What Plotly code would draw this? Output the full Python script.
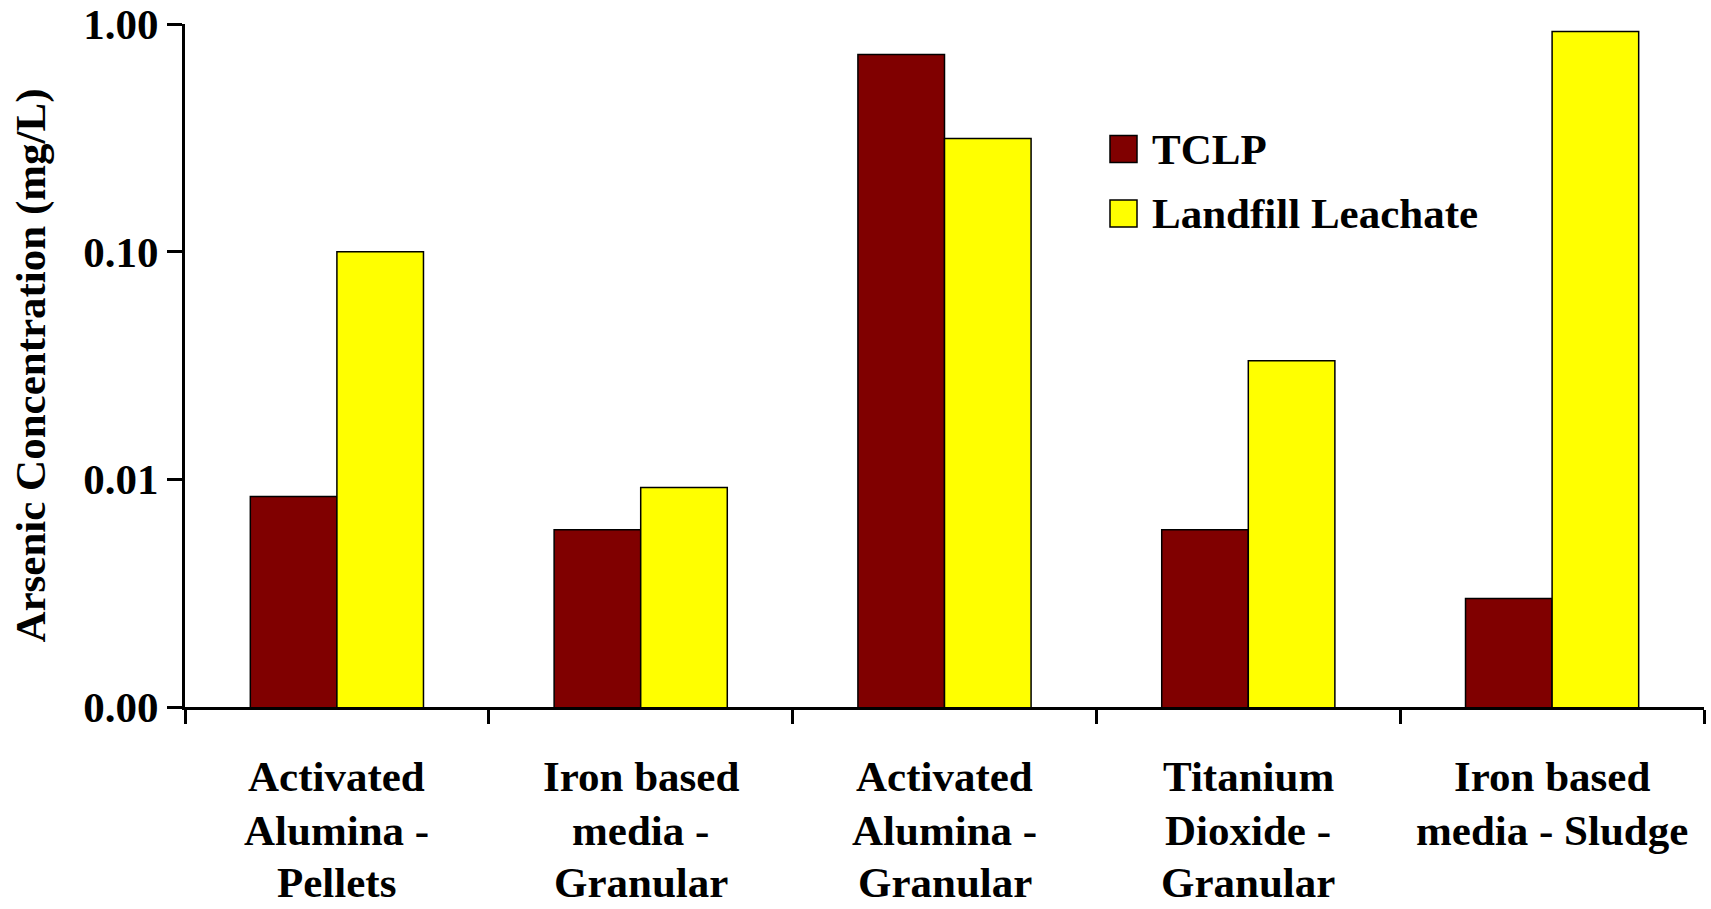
import plotly.graph_objects as go

# Leaching test results for spent arsenic-removal media (mg/L)
categories = [
    "Activated Alumina - Pellets",
    "Iron based media - Granular",
    "Activated Alumina - Granular",
    "Titanium Dioxide - Granular",
    "Iron based media - Sludge",
]
category_lines = [
    ["Activated", "Alumina -", "Pellets"],
    ["Iron based", "media -", "Granular"],
    ["Activated", "Alumina -", "Granular"],
    ["Titanium", "Dioxide -", "Granular"],
    ["Iron based", "media - Sludge"],
]
tclp = [0.0084, 0.0060, 0.734, 0.0060, 0.0030]
landfill_leachate = [0.100, 0.0092, 0.314, 0.0332, 0.926]

series_names = ["TCLP", "Landfill Leachate"]
series_colors = ["#800000", "#FFFF00"]

y_tickvals = [0.001, 0.01, 0.1, 1.0]
y_ticktext = ["0.00", "0.01", "0.10", "1.00"]

FONT = "Liberation Serif"
FS = 43
BOLD = dict(family=FONT, size=FS, color="black", weight="bold")

W, H = 1711, 909
ML, MR, MT, MB = 185, 7, 24, 202
PW, PH = W - ML - MR, H - MT - MB

fig = go.Figure()
for name, vals, col in zip(series_names, [tclp, landfill_leachate], series_colors):
    fig.add_trace(go.Bar(
        x=categories, y=vals, name=name,
        marker=dict(color=col, line=dict(color="black", width=1.5)),
        showlegend=False,
    ))

# multi-line category labels under each group
annotations = []
line_offsets = [-69, -123, -175]
for cat, lines in zip(categories, category_lines):
    for txt, off in zip(lines, line_offsets):
        annotations.append(dict(
            x=cat, xref="x", y=0, yref="paper", yanchor="middle",
            yshift=off, text=txt, showarrow=False, font=BOLD,
        ))

# legend: filled squares with labels
def px_x(px):
    return (px - ML) / PW

def px_y(py):
    return (H - MB - py) / PH

shapes = []
legend_rows = [149, 213.5]
for name, col, cy in zip(series_names, series_colors, legend_rows):
    shapes.append(dict(
        type="rect", xref="paper", yref="paper",
        x0=px_x(1110), x1=px_x(1137), y0=px_y(cy + 13.5), y1=px_y(cy - 13.5),
        fillcolor=col, line=dict(color="black", width=1.5),
    ))
    annotations.append(dict(
        x=px_x(1150), xref="paper", y=px_y(cy), yref="paper",
        xanchor="left", yanchor="middle", text=name,
        showarrow=False, font=BOLD,
    ))

fig.update_layout(
    width=W, height=H,
    margin=dict(l=ML, r=MR, t=MT, b=MB, autoexpand=False),
    paper_bgcolor="white", plot_bgcolor="white",
    barmode="group", bargap=0.43, bargroupgap=0,
    font=BOLD,
    annotations=annotations, shapes=shapes,
)
fig.update_xaxes(
    type="category", range=[-0.5, 4.5],
    showline=True, linecolor="black", linewidth=3,
    ticks="outside", tickson="boundaries", ticklen=14, tickwidth=3, tickcolor="black",
    showticklabels=False, showgrid=False, zeroline=False,
)
fig.update_yaxes(
    type="log", range=[-3, 0],
    tickvals=y_tickvals, ticktext=y_ticktext,
    tickfont=BOLD,
    showline=True, linecolor="black", linewidth=3,
    ticks="outside", ticklen=15, tickwidth=3, tickcolor="black",
    ticklabelstandoff=0,
    showgrid=False, zeroline=False,
    title=dict(text="Arsenic Concentration (mg/L)", font=BOLD, standoff=25),
)

fig.write_html("out.html")
